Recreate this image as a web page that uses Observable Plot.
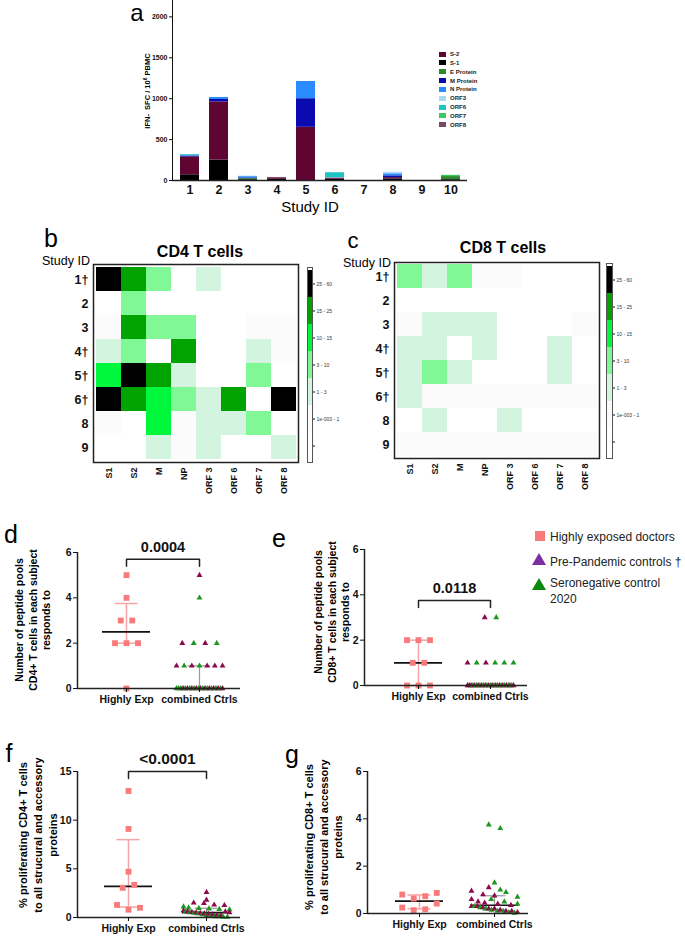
<!DOCTYPE html>
<html><head><meta charset="utf-8">
<script src="https://cdn.jsdelivr.net/npm/d3@7"></script>
<script src="https://cdn.jsdelivr.net/npm/@observablehq/plot@0.6"></script>
<style>
body{margin:0;background:#fff;}
#fig{position:relative;width:685px;height:936px;overflow:hidden;font-family:"Liberation Sans",Arial,Helvetica,sans-serif;color:#000;background:#fff;}
.lbl{position:absolute;white-space:nowrap;line-height:1;text-align:center;}
</style></head><body><div id="fig"></div>
<script>
// ---------------- DATA ----------------
// panel a: IFN-γ SFC / 10^6 PBMC by study ID, stacked by protein pool
const studyIds = ["1","2","3","4","5","6","7","8","9","10"];
const proteinSeries = ["S-1","S-2","E Protein","M Protein","N Protein","ORF3","ORF6","ORF7","ORF8"];
const legendOrder = ["S-2","S-1","E Protein","M Protein","N Protein","ORF3","ORF6","ORF7","ORF8"];
const sfcS1   = [70, 250, 10, 15, 0, 15, 0, 20, 0, 10];
const sfcS2   = [220, 710, 0, 10, 650, 15, 0, 15, 0, 0];
const sfcE    = [0, 0, 12, 0, 0, 0, 0, 0, 0, 38];
const sfcM    = [8, 30, 10, 0, 350, 0, 0, 22, 0, 0];
const sfcN    = [8, 25, 15, 0, 210, 0, 0, 25, 0, 0];
const sfcORF3 = [0, 0, 6, 0, 0, 5, 0, 18, 0, 0];
const sfcORF6 = [10, 0, 0, 0, 0, 60, 0, 0, 0, 0];
const sfcORF7 = [0, 0, 0, 0, 0, 0, 0, 0, 0, 15];
const sfcORF8 = [0, 0, 0, 12, 0, 0, 0, 0, 0, 0];
const sfcTicks = [0, 500, 1000, 1500, 2000];

// panels b, c: heatmap response classes (0 = none, 1 = 1e-003-1, 2 = 1-3, 3 = 3-10, 4 = 10-15, 5 = 15-25, 6 = 25-60)
const heatRows = ["1†","2","3","4†","5†","6†","8","9"];
const heatCols = ["S1","S2","M","NP","ORF 3","ORF 6","ORF 7","ORF 8"];
const levelNames = ["none","1e-003 - 1","1 - 3","3 - 10","10 - 15","15 - 25","25 - 60"];
const cd4Levels = [
  [6,5,3,0,2,0,0,0],
  [0,3,0,0,0,0,0,0],
  [1,5,3,3,0,0,1,1],
  [2,3,0,5,0,0,2,1],
  [4,6,5,2,0,0,3,0],
  [6,5,4,3,2,5,0,6],
  [1,0,4,1,2,2,3,0],
  [0,0,2,1,2,0,0,2]
];
const cd8Levels = [
  [3,2,3,1,1,0,0,0],
  [0,0,0,0,0,0,0,0],
  [1,2,2,2,0,0,0,1],
  [2,2,0,2,0,0,2,0],
  [2,3,2,0,0,0,2,0],
  [2,1,1,1,1,1,1,1],
  [0,2,0,0,2,0,0,0],
  [1,1,1,1,1,1,1,1]
];

// panels d-g: groups
const groups = ["Highly Exp","combined Ctrls"];
// d: CD4 pools responded to
const dHighExp = [5,4,3,3,2,2,2,0];
const dPre  = [5,2,2,1,1,1,1,1,0,0,0,0,0,0,0,0,0,0];
const dSero = [4,2,2,1,1,0,0,0,0,0,0,0,0,0,0,0,0];
// e: CD8 pools responded to
const eHighExp = [2,2,2,1,1,0,0,0];
const ePre  = [3,1,1,0,0,0,0,0,0,0,0,0,0,0,0,0,0,0];
const eSero = [3,1,1,1,1,0,0,0,0,0,0,0,0,0,0,0,0];
// f: % proliferating CD4+
const fHighExp = [13.0, 9.1, 4.7, 3.05, 3.35, 1.3, 0.8, 1.0];
const fPre  = [2.6,1.8,1.5,1.45,1.3,1.25,0.7,0.6,0.55,0.5,0.45,0.4,0.35,0.3,0.25,0.2,0.6,0.5];
const fSero = [1.1,1.0,0.95,0.9,0.85,0.8,0.6,0.5,0.45,0.4,0.3,0.2,0.15,0.1,0.1,0.05,0.05];
// g: % proliferating CD8+
const gHighExp = [0.80, 0.63, 0.73, 0.87, 0.25, 0.14, 0.18, 0.42];
const gPre  = [1.1,0.95,0.8,0.75,0.6,0.5,0.45,0.4,0.35,0.3,0.3,0.25,0.2,0.2,0.15,0.1,0.1,0.05];
const gSero = [3.75,3.6,1.3,1.0,0.9,0.7,0.6,0.5,0.4,0.3,0.25,0.2,0.15,0.1,0.1,0.05,0.02];

// ---------------- STYLE ----------------
const FONT = '"Liberation Sans", Arial, Helvetica, sans-serif';
const proteinColors = ["#000000","#5e0532","#2e8a2e","#0a0ab0","#2a8cff","#a8d8f5","#1ec3c3","#3cc864","#7a4862"];
const levelOrder = ["25 - 60","15 - 25","10 - 15","3 - 10","1 - 3","1e-003 - 1","none"];
const levelColors = ["#000000","#00a300","#00f83c","#80f895","#d3f5df","#fbfbfb","#ffffff"];
const SALMON = "#f87a7a", SALMON_LINE = "#f8a4a4", MAROON = "#8a0a4c", GREEN = "#1f961f";
const intFmt = d => String(d);

const fig = document.getElementById("fig");
function place(el, L, T) {
  el.style.position = "absolute"; el.style.left = L + "px"; el.style.top = T + "px";
  el.style.maxWidth = "none"; el.style.overflow = "visible"; el.style.background = "transparent";
  fig.appendChild(el);
}
function label(html, x, y, o = {}) {
  const d = document.createElement("div");
  d.className = "lbl";
  d.innerHTML = html;
  d.style.fontSize = (o.size || 12) + "px";
  d.style.fontWeight = o.weight || "normal";
  d.style.color = o.color || "#000";
  if (o.lh) d.style.lineHeight = o.lh + "px";
  d.style.left = x + "px"; d.style.top = y + "px";
  const tx = o.anchor === "start" ? "0" : o.anchor === "end" ? "-100%" : "-50%";
  d.style.transform = `translate(${tx},-50%)` + (o.rotate ? ` rotate(${o.rotate}deg)` : "");
  fig.appendChild(d);
  return d;
}
const baseStyle = {fontFamily: FONT, background: "transparent", overflow: "visible", color: "#111"};

// ---------------- PANEL a ----------------
const sfcBySeries = [sfcS1, sfcS2, sfcE, sfcM, sfcN, sfcORF3, sfcORF6, sfcORF7, sfcORF8];
const barData = [];
proteinSeries.forEach((s, k) => sfcBySeries[k].forEach((v, i) => barData.push({id: studyIds[i], series: s, v})));
place(Plot.plot({
  width: 380, height: 215, marginLeft: 72, marginRight: 13, marginTop: 0, marginBottom: 35,
  style: {...baseStyle, fontSize: "7px", fontWeight: "bold"},
  x: {type: "band", domain: studyIds, range: [75.5, 365.5], paddingInner: 0.34, paddingOuter: 0.17},
  y: {domain: [0, 2200], ticks: sfcTicks, tickSize: 3, tickPadding: 2, line: true, label: null, tickFormat: intFmt},
  color: {domain: proteinSeries, range: proteinColors},
  marks: [
    Plot.barY(barData, {x: "id", y: "v", fill: "series"}),
    Plot.ruleY([0], {stroke: "#222", strokeWidth: 1.5}),
    Plot.axisX({tickSize: 0, tickPadding: 5, fontSize: 12.5, fontWeight: "bold", label: null})
  ]
}), 100, 0);
label("a", 137, 13, {size: 24});
label("IFN-&nbsp; SFC / 10<sup style='font-size:5px'>6</sup> PBMC", 147, 91, {size: 7.5, weight: "bold", rotate: -90});
label("Study ID", 310, 206, {size: 15});
legendOrder.forEach((s, i) => {
  const y = 54 + i * 8.85;
  const sw = document.createElement("div");
  sw.style.cssText = `position:absolute;left:439px;top:${y - 2.5}px;width:7px;height:5px;background:${proteinColors[proteinSeries.indexOf(s)]}`;
  fig.appendChild(sw);
  label(s, 450, y, {size: 6, weight: "bold", anchor: "start", color: "#222"});
});

// ---------------- PANELS b, c ----------------
function heatmap(levels, L, T, W, H, fx0, fx1, fy0, fy1) {
  const data = [];
  levels.forEach((row, i) => row.forEach((c, j) => data.push({row: heatRows[i], col: heatCols[j], level: levelNames[c]})));
  place(Plot.plot({
    width: W, height: H,
    marginLeft: fx0 - L, marginRight: W - (fx1 - L), marginTop: fy0 - T, marginBottom: H - (fy1 - T),
    style: baseStyle,
    x: {domain: heatCols, padding: 0},
    y: {domain: heatRows, padding: 0},
    color: {type: "ordinal", domain: levelOrder, range: levelColors},
    marks: [
      Plot.cell(data, {x: "col", y: "row", fill: "level"}),
      Plot.frame({stroke: "#222", strokeWidth: 1.5}),
      Plot.axisX({anchor: "bottom", tickRotate: -90, tickSize: 0, tickPadding: 5, fontSize: 9, fontWeight: "bold", label: null}),
      Plot.axisY({anchor: "left", tickSize: 0, tickPadding: 5, fontSize: 12.5, fontWeight: "bold", label: null})
    ]
  }), L, T);
}
function levelLegend(L, T, W, H, bx0, bx1, by0, by1) {
  place(Plot.plot({
    width: W, height: H,
    marginLeft: bx0 - L, marginRight: W - (bx1 - L), marginTop: by0 - T, marginBottom: H - (by1 - T),
    style: baseStyle,
    y: {domain: levelOrder, padding: 0},
    color: {type: "ordinal", domain: levelOrder, range: levelColors},
    marks: [
      Plot.cell(levelOrder, {y: d => d, fill: d => d}),
      Plot.frame({stroke: "#555", strokeWidth: 1}),
      Plot.axisY({anchor: "right", tickSize: 2, tickPadding: 2, fontSize: 5, fill: "#333", label: null, tickFormat: d => d === "none" ? "" : d})
    ]
  }), L, T);
}
heatmap(cd4Levels, 0, 195, 300, 305, 93, 298, 264, 462);
levelLegend(300, 255, 50, 215, 307, 312, 267, 462);
label("b", 51, 238, {size: 25});
label("CD4 T cells", 200, 252, {size: 16, weight: "bold"});
label("Study ID", 66, 261, {size: 12.5});

heatmap(cd8Levels, 340, 195, 270, 305, 394, 599, 262, 458);
levelLegend(600, 255, 60, 215, 606, 612, 263, 458);
label("c", 353, 241, {size: 22});
label("CD8 T cells", 503, 248, {size: 16, weight: "bold"});
label("Study ID", 367, 263, {size: 12.5});

// ---------------- PANELS d-g ----------------
function spreadOffsets(values, ppu, spacing, maxHalf, clusterPx) {
  const idx = d3.range(values.length).sort((a, b) => values[a] - values[b] || a - b);
  const off = new Array(values.length).fill(0);
  let cluster = [], start = 0;
  const flush = () => {
    cluster.sort((a, b) => a - b);
    const n = cluster.length;
    const s = n > 1 ? Math.min(spacing, 2 * maxHalf / (n - 1)) : 0;
    cluster.forEach((k, i) => off[k] = (i - (n - 1) / 2) * s);
    cluster = [];
  };
  for (const k of idx) {
    if (cluster.length && (values[k] - start) * ppu > clusterPx) flush();
    if (!cluster.length) start = values[k];
    cluster.push(k);
  }
  if (cluster.length) flush();
  return off;
}
function interleave(pre, sero) {
  const out = [];
  for (let i = 0; i < Math.max(pre.length, sero.length); i++) {
    if (i < pre.length) out.push({v: pre[i], g: "pre"});
    if (i < sero.length) out.push({v: sero[i], g: "sero"});
  }
  return out;
}
function q6(values, p) {
  const s = values.slice().sort((a, b) => a - b), n = s.length;
  const h = (n + 1) * p;
  if (h <= 1) return s[0];
  if (h >= n) return s[n - 1];
  const lo = Math.floor(h);
  return s[lo - 1] + (h - lo) * (s[lo] - s[lo - 1]);
}
function stats(v) { return {q1: q6(v, 0.25), med: q6(v, 0.5), q3: q6(v, 0.75)}; }

function scatterPanel(c) {
  const ppu = (c.y0 - c.yTop) / c.yMax;
  const span = c.cx1 - c.cx0;
  const heOff = spreadOffsets(c.he, ppu, 11.5, 20, 7);
  const ctrl = interleave(c.pre, c.sero);
  const ctOff = spreadOffsets(ctrl.map(d => d.v), ppu, 11.5, 23, 7);
  const heData = c.he.map((v, i) => ({x: heOff[i] / span, y: v}));
  const ctData = ctrl.map((d, i) => ({x: 1 + ctOff[i] / span, y: d.v, fill: d.g === "pre" ? MAROON : GREEN}));
  const hs = stats(c.he), cs = stats(ctrl.map(d => d.v));
  const cap = 11.5 / span, med = 24 / span;
  const xmin = (c.axisX - c.cx0) / span, xmax = (c.axisEnd - c.cx0) / span;
  const marks = [
    Plot.ruleX([0], {y1: hs.q1, y2: hs.q3, stroke: SALMON_LINE, strokeWidth: 1.5}),
    Plot.ruleY([hs.q1, hs.q3], {x1: -cap, x2: cap, stroke: SALMON_LINE, strokeWidth: 1.5}),
    Plot.ruleX([1], {y1: cs.q1, y2: cs.q3, stroke: "#999", strokeWidth: 1.2}),
    Plot.ruleY([cs.q1, cs.q3], {x1: 1 - cap, x2: 1 + cap, stroke: "#999", strokeWidth: 1.2}),
    Plot.ruleY([hs.med], {x1: -med, x2: med, stroke: "#111", strokeWidth: 1.6}),
    Plot.ruleY([cs.med], {x1: 1 - med, x2: 1 + med, stroke: "#111", strokeWidth: 1.6}),
    Plot.dot(heData, {x: "x", y: "y", symbol: "square", fill: SALMON, r: 3.3}),
    Plot.dot(ctData, {x: "x", y: "y", symbol: "triangle", fill: "fill", r: 2.2}),
    Plot.ruleY([0], {stroke: "#222", strokeWidth: 1.5}),
    Plot.ruleX([xmin], {stroke: "#222", strokeWidth: 1.5}),
    Plot.axisY({ticks: c.ticks, tickFormat: intFmt, tickSize: 4, tickPadding: 2, fontSize: 10.5, fontWeight: "bold", label: null}),
    Plot.axisX({ticks: [0, 1], tickFormat: i => groups[i], tickSize: 4, tickPadding: 3, fontSize: 10.5, fontWeight: "bold", label: null})
  ];
  if (c.pText) {
    const down = 7 / ppu;
    marks.push(Plot.line([[0, c.bracketAt - down], [0, c.bracketAt], [1, c.bracketAt], [1, c.bracketAt - down]], {stroke: "#222", strokeWidth: 1.5}));
    marks.push(Plot.text([c.pText], {x: 0.5, y: c.bracketAt, text: d => d, dy: -12, fontSize: c.pSize, fontWeight: "bold", fill: "#111"}));
  }
  place(Plot.plot({
    width: c.W, height: c.H,
    marginLeft: c.axisX, marginRight: c.W - c.axisEnd, marginTop: c.yTop, marginBottom: c.H - c.y0,
    style: baseStyle,
    x: {domain: [xmin, xmax]},
    y: {domain: [0, c.yMax]},
    color: {type: "identity"},
    marks
  }), c.L, c.T);
}

scatterPanel({L: 0, T: 520, W: 240, H: 190, axisX: 77, axisEnd: 240, cx0: 126, cx1: 199, y0: 168, yTop: 32, yMax: 6,
  ticks: [0, 2, 4, 6], he: dHighExp, pre: dPre, sero: dSero, bracketAt: 5.7, pText: "0.0004", pSize: 14.5});
scatterPanel({L: 240, T: 520, W: 295, H: 190, axisX: 124, axisEnd: 287, cx0: 178, cx1: 250, y0: 165, yTop: 29, yMax: 6,
  ticks: [0, 2, 4, 6], he: eHighExp, pre: ePre, sero: eSero, bracketAt: 3.75, pText: "0.0118", pSize: 14.5});
scatterPanel({L: 0, T: 700, W: 245, H: 236, axisX: 77, axisEnd: 240, cx0: 128, cx1: 206, y0: 217, yTop: 71, yMax: 15,
  ticks: [0, 5, 10, 15], he: fHighExp, pre: fPre, sero: fSero, bracketAt: 15, pText: "<0.0001", pSize: 15.5});
scatterPanel({L: 240, T: 700, W: 290, H: 236, axisX: 127, axisEnd: 288, cx0: 179, cx1: 254, y0: 213, yTop: 71, yMax: 6,
  ticks: [0, 2, 4, 6], he: gHighExp, pre: gPre, sero: gSero});

label("d", 11, 534, {size: 25});
label("e", 279, 538, {size: 25});
label("f", 9, 753, {size: 25});
label("g", 292, 754, {size: 25});
label(["Number of peptide pools", "CD4+ T cells in each subject", "responds to"].join("<br>"), 33, 620, {size: 10.5, weight: "bold", rotate: -90, lh: 13.5});
label(["Number of peptide pools", "CD8+ T cells in each subject", "responds to"].join("<br>"), 332, 612, {size: 10.5, weight: "bold", rotate: -90, lh: 13.5});
label(["% proliferating CD4+ T cells", "to all strucural and accessory", "proteins"].join("<br>"), 38, 835, {size: 11, weight: "bold", rotate: -90, lh: 15});
label(["% proliferating CD8+ T cells", "to all strucural and accessory", "proteins"].join("<br>"), 324, 837, {size: 11, weight: "bold", rotate: -90, lh: 14.5});

// legend for d-g
(function () {
  const sq = document.createElement("div");
  sq.style.cssText = `position:absolute;left:535px;top:531px;width:10px;height:10px;background:${SALMON}`;
  fig.appendChild(sq);
  const tri = (top, color) => {
    const d = document.createElement("div");
    d.style.cssText = `position:absolute;left:532px;top:${top}px;width:14px;height:12px`;
    d.innerHTML = `<svg width="14" height="12"><polygon points="7,0 14,12 0,12" fill="${color}"/></svg>`;
    fig.appendChild(d);
  };
  tri(551, "#7b2fa0");
  tri(576, "#0a8a0a");
  label("Highly exposed doctors", 550, 537, {size: 12, anchor: "start", color: "#222"});
  label("Pre-Pandemic controls †", 550, 562, {size: 12, anchor: "start", color: "#222"});
  label("Seronegative control", 550, 583, {size: 12, anchor: "start", color: "#222"});
  label("2020", 550, 599, {size: 12, anchor: "start", color: "#222"});
})();
</script>
</body></html>
